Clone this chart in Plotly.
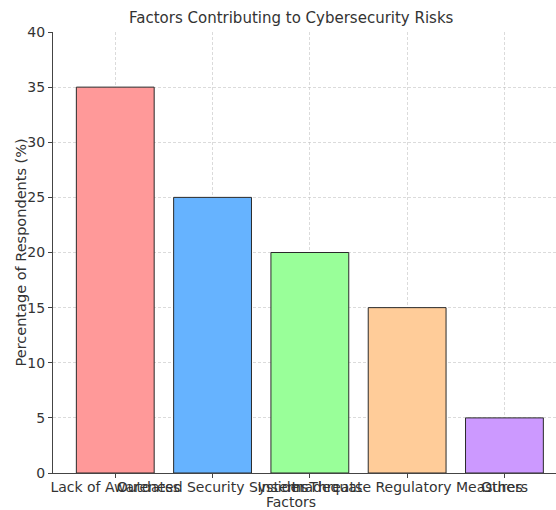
import plotly.graph_objects as go

factors = ["Lack of Awareness", "Outdated Security Systems", "Insider Threats",
           "Inadequate Regulatory Measures", "Others"]
percentages = [35, 25, 20, 15, 5]
bar_colors = ["#ff9999", "#66b3ff", "#99ff99", "#ffcc99", "#cc99ff"]
y_ticks = [0, 5, 10, 15, 20, 25, 30, 35, 40]

W, H = 556, 510
L, T, B, R = 53, 32, 37, 0

fig = go.Figure(go.Bar(
    x=list(range(len(factors))),
    y=percentages,
    width=0.8,
    marker=dict(color=bar_colors, line=dict(color="#2a2a2a", width=1)),
    hoverinfo="skip",
))

font = "DejaVu Sans, sans-serif"
txt = "#333333"
grid = dict(showgrid=True, gridcolor="rgba(190,190,190,0.55)", gridwidth=1, griddash="3px,2px")
mid_x = (291 - L) / (W - L - R)

fig.update_layout(
    width=W, height=H,
    margin=dict(l=L, r=R, t=T, b=B),
    paper_bgcolor="white", plot_bgcolor="white",
    showlegend=False,
    font=dict(family=font, size=14, color=txt),
    xaxis=dict(
        range=[-0.64, 4.53],
        tickmode="array", tickvals=list(range(len(factors))), ticktext=factors,
        ticks="outside", ticklen=4, tickcolor="#444", tickwidth=1,
        showline=True, linecolor="#444", linewidth=1.2,
        zeroline=False, layer="above traces",
        tickfont=dict(size=14, color=txt), tickangle=0,
        ticklabelstandoff=-3,
        **grid,
    ),
    yaxis=dict(
        range=[0, 40],
        tickmode="array", tickvals=y_ticks,
        ticks="outside", ticklen=4, tickcolor="#444", tickwidth=1,
        showline=True, linecolor="#444", linewidth=1.2,
        zeroline=False, layer="above traces",
        tickfont=dict(size=14, color=txt),
        **grid,
    ),
    annotations=[
        dict(text="Factors Contributing to Cybersecurity Risks", xref="paper", yref="paper",
             x=mid_x, y=1, yshift=3, xanchor="center", yanchor="bottom",
             showarrow=False, font=dict(size=15, color=txt)),
        dict(text="Factors", xref="paper", yref="paper",
             x=mid_x, y=0, yshift=-19, xanchor="center", yanchor="top",
             showarrow=False, font=dict(size=14, color=txt)),
        dict(text="Percentage of Respondents (%)", xref="paper", yref="paper",
             x=0, xshift=20 - L, y=0.5, xanchor="center", yanchor="middle",
             textangle=-90, showarrow=False, font=dict(size=14.5, color=txt)),
    ],
)

fig.write_html("out.html")
